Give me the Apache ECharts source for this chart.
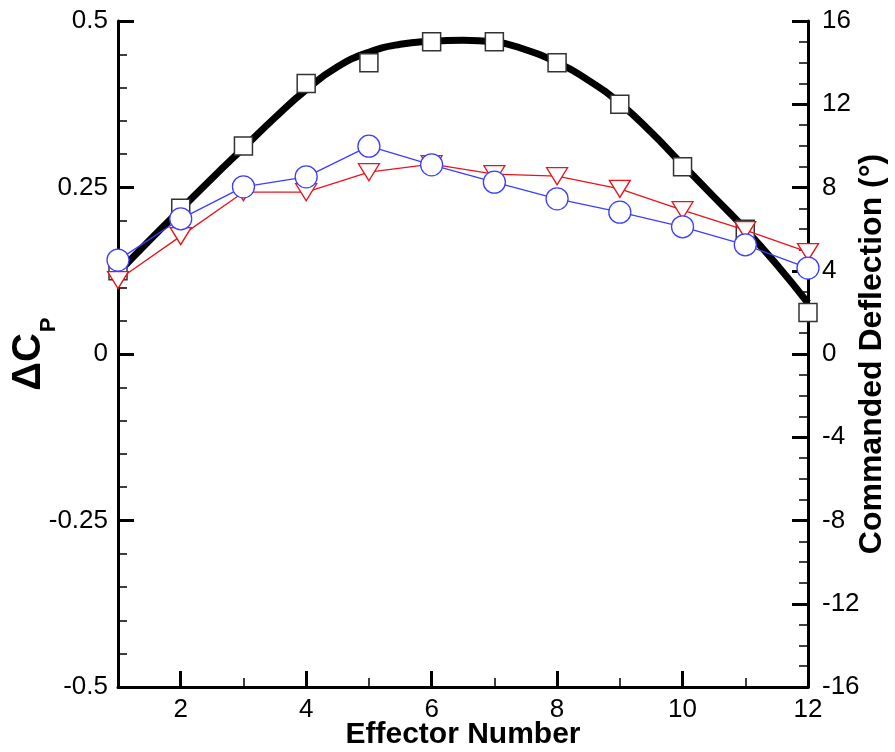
<!DOCTYPE html>
<html>
<head>
<meta charset="utf-8">
<script src="https://cdn.jsdelivr.net/npm/echarts@6/dist/echarts.min.js"></script>
<style>
html,body{margin:0;padding:0;background:#fff;}
#chart{width:895px;height:752px;}
</style>
</head>
<body>
<div id="chart"></div>
<script>
// ---- data ----
const effectors = [1, 2, 3, 4, 5, 6, 7, 8, 9, 10, 11, 12];
const deltaCpTriangles = [0.111, 0.177, 0.243, 0.243, 0.273, 0.285, 0.270, 0.267, 0.248, 0.216, 0.186, 0.153];
const deltaCpCircles = [0.141, 0.203, 0.251, 0.266, 0.312, 0.284, 0.258, 0.233, 0.213, 0.191, 0.164, 0.129];
const deflectionSquares = [4, 7, 10, 13, 14, 15, 15, 14, 12, 9, 6, 2];
// thick commanded-deflection curve, every half effector
const curveX = [1, 1.5, 2, 2.5, 3, 3.5, 4, 4.5, 5, 5.5, 6, 6.5, 7, 7.5, 8, 8.5, 9, 9.5, 10, 10.5, 11, 11.5, 12];
const curveY = [3.9, 5.45, 6.95, 8.45, 9.9, 11.35, 12.7, 13.8, 14.5, 14.88, 15.03, 15.08, 15.0, 14.62, 14.0, 13.15, 12.05, 10.65, 9.1, 7.55, 6.0, 4.3, 2.45];
const xMajorTicks = [2, 4, 6, 8, 10, 12];
const xMinorTicks = [3, 5, 7, 9, 11];
const leftTitleMain = 'ΔC';
const leftTitleSub = 'P';

const FONT = "'Liberation Sans', Arial, Helvetica, sans-serif";
const pairs = (xs, ys) => xs.map((x, i) => [x, ys[i]]);

const chart = echarts.init(document.getElementById('chart'), null, {renderer: 'canvas'});
const axisLine = {show: true, onZero: false, lineStyle: {color: '#000', width: 3}};
const option = {
  backgroundColor: '#fff',
  animation: false,
  grid: {left: 118, right: 87, top: 21, bottom: 65, containLabel: false, outerBoundsMode: 'none'},
  graphic: [{
    type: 'text', x: 29, y: 362, rotation: Math.PI / 2,
    style: {text: leftTitleMain, font: 'bold 40px ' + FONT, fill: '#000', textAlign: 'center', textVerticalAlign: 'middle'}
  }, {
    type: 'text', x: 49, y: 325, rotation: Math.PI / 2,
    style: {text: leftTitleSub, font: 'bold 22px ' + FONT, fill: '#000', textAlign: 'center', textVerticalAlign: 'middle'}
  }],
  xAxis: [{
    type: 'value', min: 1, max: 12, interval: 1,
    position: 'bottom',
    axisLine: axisLine,
    axisTick: {show: true, inside: true, length: 16, lineStyle: {color: '#000', width: 3}, customValues: xMajorTicks},
    axisLabel: {show: true, margin: 10, fontFamily: FONT, fontSize: 26, color: '#000', customValues: xMajorTicks},
    splitLine: {show: false},
    name: 'Effector Number', nameLocation: 'middle', nameGap: 33, nameMoveOverlap: false,
    nameTextStyle: {fontFamily: FONT, fontSize: 30, fontWeight: 'bold', color: '#000'}
  }, {
    type: 'value', min: 1, max: 12, interval: 1,
    position: 'bottom',
    axisLine: {show: false, onZero: false},
    axisTick: {show: true, inside: true, length: 9, lineStyle: {color: '#000', width: 1.5}, customValues: xMinorTicks},
    axisLabel: {show: false},
    splitLine: {show: false}
  }],
  yAxis: [{
    type: 'value', min: -0.5, max: 0.5, interval: 0.25,
    position: 'left',
    axisLine: axisLine,
    axisTick: {show: true, inside: true, length: 16, lineStyle: {color: '#000', width: 3}},
    minorTick: {show: true, splitNumber: 5, length: 9, lineStyle: {color: '#000', width: 1.5}},
    axisLabel: {margin: 10, fontFamily: FONT, fontSize: 26, color: '#000'},
    splitLine: {show: false}
  }, {
    type: 'value', min: -16, max: 16, interval: 4,
    position: 'right',
    axisLine: axisLine,
    axisTick: {show: true, inside: true, length: 16, lineStyle: {color: '#000', width: 3}},
    minorTick: {show: true, splitNumber: 4, length: 9, lineStyle: {color: '#000', width: 1.5}},
    axisLabel: {margin: 14, fontFamily: FONT, fontSize: 26, color: '#000'},
    splitLine: {show: false},
    name: 'Commanded Deflection (°)', nameLocation: 'middle', nameRotate: 90, nameGap: 48, nameMoveOverlap: false,
    nameTextStyle: {fontFamily: FONT, fontSize: 32, fontWeight: 'bold', color: '#000'}
  }],
  series: [{
    name: 'Commanded curve', type: 'line', xAxisIndex: 0, yAxisIndex: 1,
    data: pairs(curveX, curveY), smooth: 0.5, showSymbol: false, symbol: 'none',
    lineStyle: {color: '#000', width: 7}, z: 2
  }, {
    name: 'Commanded', type: 'scatter', xAxisIndex: 0, yAxisIndex: 1,
    data: pairs(effectors, deflectionSquares), symbol: 'rect', symbolSize: 18,
    itemStyle: {color: '#fff', borderColor: '#333', borderWidth: 1.5, opacity: 1}, z: 3
  }, {
    name: 'Triangles', type: 'line', xAxisIndex: 0, yAxisIndex: 0,
    data: pairs(effectors, deltaCpTriangles), symbol: 'triangle', symbolRotate: 180, symbolSize: [21, 17],
    showAllSymbol: true,
    lineStyle: {color: '#e8141c', width: 1.3},
    itemStyle: {color: '#fff', borderColor: '#e8141c', borderWidth: 1.3}, z: 4
  }, {
    name: 'Circles', type: 'line', xAxisIndex: 0, yAxisIndex: 0,
    data: pairs(effectors, deltaCpCircles), symbol: 'circle', symbolSize: 22,
    showAllSymbol: true,
    lineStyle: {color: '#3d3dff', width: 1.3},
    itemStyle: {color: '#fff', borderColor: '#3d3dff', borderWidth: 1.3}, z: 5
  }]
};
chart.setOption(option);
</script>
</body>
</html>
